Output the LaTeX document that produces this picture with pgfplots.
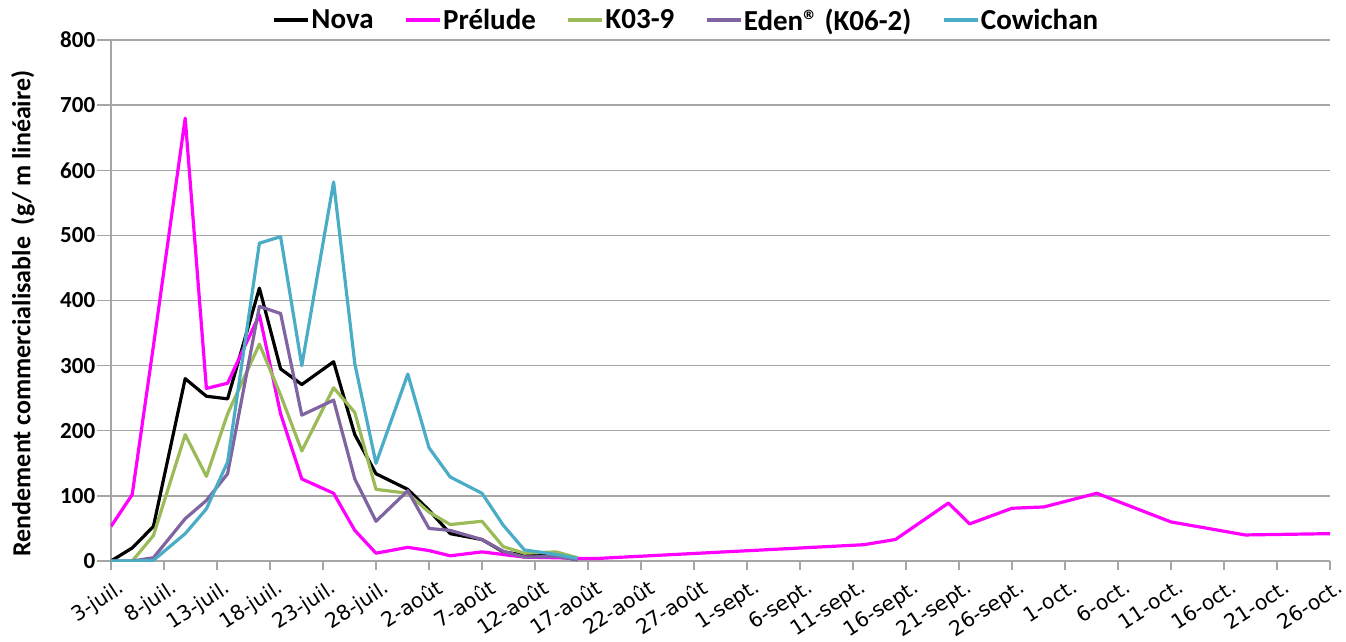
\documentclass[border=0pt]{standalone}
\usepackage{fontspec}
\setmainfont{Carlito}
\newfontfamily\dejavu{DejaVu Sans}
\usepackage{pgfplots}
\pgfplotsset{compat=1.18}
\definecolor{cNova}{RGB}{0,0,0}
\definecolor{cPrel}{RGB}{255,0,255}
\definecolor{cK03}{RGB}{155,187,89}
\definecolor{cEden}{RGB}{128,100,162}
\definecolor{cCow}{RGB}{75,172,198}
\definecolor{cGrid}{RGB}{166,166,166}
\begin{document}
\begin{tikzpicture}
\useasboundingbox (-111pt,-80pt) rectangle (1235pt,561pt);
\begin{axis}[
  at={(0,0)}, anchor=south west,
  scale only axis, width=1219pt, height=521pt,
  xmin=0, xmax=115, ymin=0, ymax=800,
  axis x line*=bottom, axis y line*=left,
  axis line style={cGrid, line width=1.3pt, -},
  ymajorgrids, major grid style={cGrid, line width=1.3pt},
  ytick={0,100,...,800},
  xtick={0,5,...,115},
  xticklabels={3-juil.,8-juil.,13-juil.,18-juil.,23-juil.,28-juil.,2-août,7-août,12-août,17-août,22-août,27-août,1-sept.,6-sept.,11-sept.,16-sept.,21-sept.,26-sept.,1-oct.,6-oct.,11-oct.,16-oct.,21-oct.,26-oct.},
  tick align=outside,
  xtick style={cGrid, line width=1.3pt, /pgfplots/major tick length=9pt},
  ytick style={cGrid, line width=1.3pt, /pgfplots/major tick length=14pt},
  /pgf/number format/assume math mode=true,
  yticklabel style={font=\fontsize{23}{23}\selectfont\bfseries, xshift=-8pt},
  xticklabel style={font=\dejavu\fontsize{20.5}{20.5}\selectfont, rotate=33, anchor=north east, inner sep=0pt, xshift=-2pt, yshift=-14pt},
  ylabel={Rendement commercialisable\ \ (g/ m linéaire)},
  ylabel style={font=\fontsize{26}{26}\selectfont\bfseries, at={(axis description cs:-0.0722,0.475)}, anchor=center},
  legend style={draw=none, fill=none, at={(0.4717,1.0384)}, anchor=center,
    legend columns=-1, font=\fontsize{29}{29}\selectfont\bfseries,
    /tikz/every even column/.append style={column sep=29pt},
    inner sep=0pt, nodes={inner sep=1.5pt}},
  legend image code/.code={\draw[#1, line width=3.5pt] (0pt,0pt) -- (34pt,0pt);},
  every axis plot/.append style={line width=3.2pt, line join=round},
]
\addplot[cNova, mark=none] coordinates {(0,0)(2,20)(4,53)(7,280)(9,253)(11,249)(14,419)(16,295)(18,271)(21,306)(23,194)(25,134)(28,110)(30,78)(32,42)(35,33)(37,14)(39,9)(42,8)(44,2)};
\addlegendentry{Nova}
\addplot[cPrel, mark=none] coordinates {(0,53)(2,102)(4,330)(7,680)(9,265)(11,273)(14,378)(16,226)(18,126)(21,104)(23,47)(25,12)(28,21)(30,16)(32,8)(35,14)(37,10)(39,6)(42,5)(44,4)(46,4)(71,25)(74,33)(79,89)(81,57)(85,81)(88,83)(93,104)(100,60)(107,40)(115,42)};
\addlegendentry{Prélude}
\addplot[cK03, mark=none] coordinates {(2,0)(4,39)(7,194)(9,130)(11,226)(14,333)(16,255)(18,169)(21,266)(23,228)(25,110)(28,104)(30,75)(32,56)(35,61)(37,22)(39,12)(42,14)(44,5)};
\addlegendentry{K03-9}
\addplot[cEden, mark=none] coordinates {(0,0)(2,0)(4,5)(7,65)(9,93)(11,134)(14,391)(16,380)(18,224)(21,247)(23,126)(25,61)(28,108)(30,50)(32,47)(35,33)(37,15)(39,6)(42,7)(44,2)};
\addlegendentry{Eden® (K06-2)}
\addplot[cCow, mark=none] coordinates {(0,0)(2,0)(4,1)(7,42)(9,80)(11,152)(14,488)(16,498)(18,300)(21,582)(23,303)(25,150)(28,287)(30,174)(32,129)(35,104)(37,55)(39,17)(42,10)(44,4)};
\addlegendentry{Cowichan}
\end{axis}
\end{tikzpicture}
\end{document}
